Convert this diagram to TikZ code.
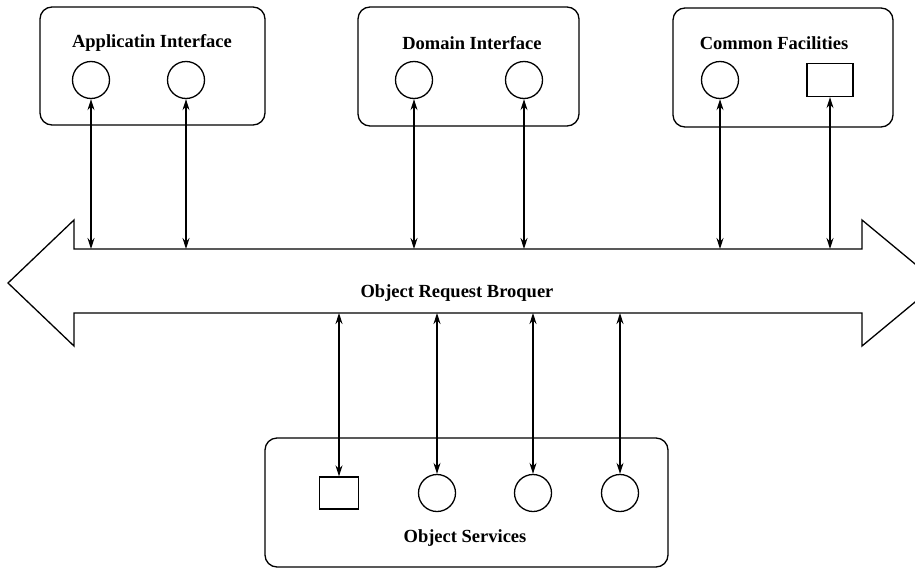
\documentclass[tikz,border=0pt]{standalone}
\usepackage{fontspec}
\setmainfont{Liberation Serif}
\usetikzlibrary{arrows.meta}

\tikzset{
  lbl/.style={font=\bfseries\fontsize{18.5}{21}\selectfont},
  port/.style={draw, circle, minimum size=37pt, inner sep=0pt, line width=1.3pt},
  obj/.style={draw, rectangle, minimum width=46pt, minimum height=33pt, inner sep=0pt, line width=1.3pt},
  frame/.style={draw, rounded corners=12pt, line width=1.3pt},
  link/.style={{Stealth[length=11pt,width=7pt]}-{Stealth[length=11pt,width=7pt]}, line width=1.3pt}
}

\begin{document}
\begin{tikzpicture}[x=1pt, y=-1pt]
        \useasboundingbox (0,0) rectangle (915,573);

        % top boxes
        \draw[frame] (40,7) rectangle (265,125);
        \node[lbl] (appl) at (152,43) {Applicatin Interface};
        \node[port] (a1) at (91,80) {};
        \node[port] (a2) at (186,80) {};

        \draw[frame] (358,7) rectangle (579,126);
        \node[lbl] (dom) at (472,43) {Domain Interface};
        \node[port] (d1) at (414,80) {};
        \node[port] (d2) at (524,80) {};

        \draw[frame] (673,8) rectangle (893,127);
        \node[lbl] (fac) at (774,43) {Common Facilities};
        \node[port] (c1) at (720,80) {};
        \node[obj] (c2) at (830,80) {};

        % the bus
        \draw[line width=1.3pt] (74,249) -- (862,249) -- (862,220) -- (938,283) -- (862,346)
            -- (862,313) -- (74,313) -- (74,346) -- (8,283) -- (74,220) -- cycle;
        \node[lbl] (orb) at (457,293) {Object Request Broquer};

        \coordinate (ta1) at (91,249);
        \coordinate (ta2) at (186,249);
        \coordinate (td1) at (414,249);
        \coordinate (td2) at (524,249);
        \coordinate (tc1) at (720,249);
        \coordinate (tc2) at (830,249);

        \draw[link] (ta1) -- (a1.south);
        \draw[link] (ta2) -- (a2.south);
        \draw[link] (td1) -- (d1.south);
        \draw[link] (td2) -- (d2.south);
        \draw[link] (tc1) -- (c1.south);
        \draw[link] (tc2) -- (c2.south);

        % bottom box
        \draw[frame] (265,438) rectangle (668,567);
        \node[lbl] (serv) at (465,538) {Object Services};
        \node[obj, minimum width=39pt, minimum height=32pt] (s1) at (339,493) {};
        \node[port] (s2) at (437,493) {};
        \node[port] (s3) at (533,493) {};
        \node[port] (s4) at (620,493) {};

        \coordinate (bs1) at (339,313);
        \coordinate (bs2) at (437,313);
        \coordinate (bs3) at (533,313);
        \coordinate (bs4) at (620,313);

        \draw[link] (bs1) -- (s1.north);
        \draw[link] (bs2) -- (s2.north);
        \draw[link] (bs3) -- (s3.north);
        \draw[link] (bs4) -- (s4.north);

\end{tikzpicture}
\end{document}
